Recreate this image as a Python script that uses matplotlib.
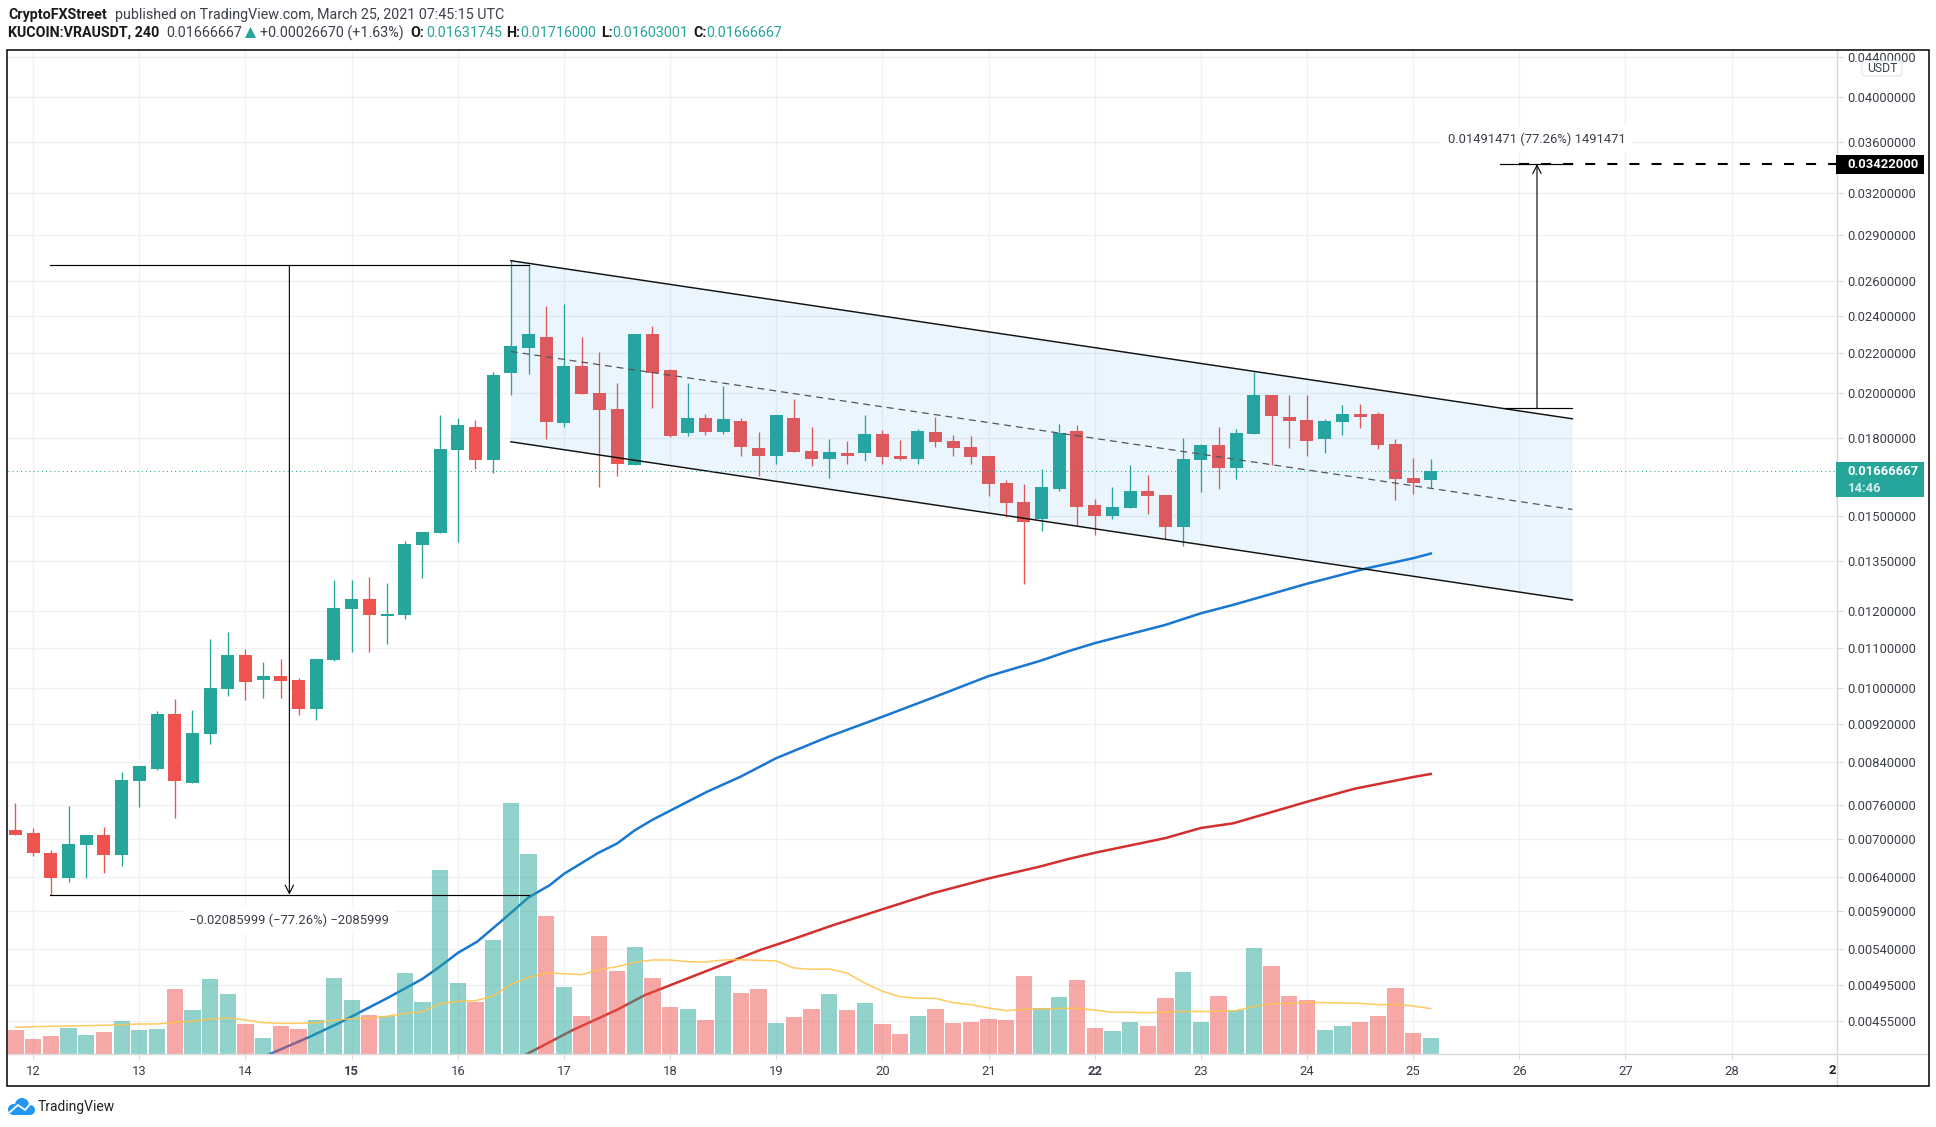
import matplotlib
matplotlib.use('Agg')
import matplotlib.pyplot as plt
import matplotlib.patches as mpatches
from matplotlib.lines import Line2D
from matplotlib.transforms import Affine2D
import numpy as np
import pandas as pd

plt.rcParams['font.family'] = ['Roboto', 'DejaVu Sans']

W, H = 1936, 1127
UP = '#26A69A'
DOWN = '#EF5350'
TEXT = '#3a3f4a'

# ==========================================
# 1. CANDLES (open, high, low, close), 4h bars
# ==========================================
ohlc = [
    (0.00715, 0.00762, 0.00708, 0.00708), (0.00711, 0.00719, 0.00673, 0.00677),
    (0.00678, 0.00683, 0.00614, 0.00638), (0.00638, 0.00758, 0.00632, 0.00692),
    (0.00691, 0.00708, 0.00638, 0.00707), (0.00707, 0.00721, 0.00647, 0.00674),
    (0.00674, 0.00821, 0.00657, 0.00805), (0.00804, 0.00833, 0.00756, 0.00833),
    (0.00827, 0.00948, 0.00824, 0.00941), (0.00941, 0.00975, 0.00737, 0.00804),
    (0.00800, 0.00950, 0.00800, 0.00900), (0.00897, 0.01123, 0.00877, 0.01000),
    (0.00998, 0.01143, 0.00983, 0.01081), (0.01081, 0.01098, 0.00973, 0.01015),
    (0.01019, 0.01065, 0.00978, 0.01029), (0.01029, 0.01071, 0.00978, 0.01017),
    (0.01019, 0.01025, 0.00939, 0.00952), (0.00952, 0.01071, 0.00927, 0.01071),
    (0.01069, 0.01290, 0.01067, 0.01209), (0.01206, 0.01290, 0.01088, 0.01234),
    (0.01234, 0.01300, 0.01088, 0.01188), (0.01186, 0.01282, 0.01110, 0.01190),
    (0.01188, 0.01415, 0.01177, 0.01405), (0.01402, 0.01444, 0.01297, 0.01444),
    (0.01441, 0.01901, 0.01441, 0.01756), (0.01753, 0.01888, 0.01412, 0.01858),
    (0.01849, 0.01880, 0.01676, 0.01711), (0.01711, 0.02103, 0.01658, 0.02090),
    (0.02098, 0.02734, 0.01993, 0.02235), (0.02224, 0.02702, 0.02094, 0.02298),
    (0.02282, 0.02455, 0.01797, 0.01870), (0.01866, 0.02466, 0.01849, 0.02133),
    (0.02133, 0.02282, 0.01996, 0.01996), (0.02001, 0.02203, 0.01606, 0.01923),
    (0.01929, 0.02050, 0.01648, 0.01695), (0.01691, 0.02298, 0.01691, 0.02298),
    (0.02298, 0.02342, 0.01932, 0.02098), (0.02113, 0.02118, 0.01805, 0.01811),
    (0.01822, 0.02050, 0.01811, 0.01888), (0.01888, 0.01906, 0.01814, 0.01826),
    (0.01826, 0.02035, 0.01818, 0.01883), (0.01875, 0.01888, 0.01728, 0.01763),
    (0.01759, 0.01826, 0.01648, 0.01728), (0.01728, 0.01901, 0.01695, 0.01901),
    (0.01888, 0.01975, 0.01743, 0.01743), (0.01747, 0.01849, 0.01687, 0.01715),
    (0.01715, 0.01797, 0.01640, 0.01743), (0.01740, 0.01788, 0.01695, 0.01728),
    (0.01740, 0.01901, 0.01708, 0.01818), (0.01818, 0.01835, 0.01695, 0.01723),
    (0.01728, 0.01793, 0.01711, 0.01715), (0.01715, 0.01841, 0.01695, 0.01832),
    (0.01826, 0.01892, 0.01763, 0.01784), (0.01788, 0.01814, 0.01728, 0.01759),
    (0.01763, 0.01811, 0.01695, 0.01723), (0.01728, 0.01728, 0.01572, 0.01618),
    (0.01621, 0.01632, 0.01496, 0.01547), (0.01551, 0.01618, 0.01277, 0.01478),
    (0.01490, 0.01674, 0.01448, 0.01604), (0.01596, 0.01861, 0.01589, 0.01822),
    (0.01832, 0.01857, 0.01465, 0.01531), (0.01538, 0.01561, 0.01434, 0.01500),
    (0.01500, 0.01604, 0.01490, 0.01531), (0.01528, 0.01691, 0.01528, 0.01592),
    (0.01592, 0.01650, 0.01507, 0.01572), (0.01575, 0.01575, 0.01421, 0.01462),
    (0.01462, 0.01801, 0.01397, 0.01715), (0.01711, 0.01775, 0.01585, 0.01771),
    (0.01771, 0.01849, 0.01596, 0.01679), (0.01679, 0.01841, 0.01636, 0.01822),
    (0.01818, 0.02103, 0.01818, 0.01993), (0.01993, 0.01993, 0.01691, 0.01897),
    (0.01892, 0.01993, 0.01759, 0.01875), (0.01879, 0.01993, 0.01728, 0.01788),
    (0.01797, 0.01883, 0.01740, 0.01875), (0.01870, 0.01946, 0.01814, 0.01906),
    (0.01906, 0.01950, 0.01845, 0.01892), (0.01906, 0.01915, 0.01754, 0.01771),
    (0.01775, 0.01797, 0.01557, 0.01636), (0.01640, 0.01720, 0.01580, 0.01621),
    (0.01631745, 0.01716, 0.01603001, 0.01666667),
]
df = pd.DataFrame(ohlc, columns=['open', 'high', 'low', 'close'])
df['up'] = df['close'] >= df['open']

# volume, relative units
df['volume'] = [
    73, 46, 55, 79, 58, 67, 100, 73, 76, 196, 133, 226, 181, 91, 49, 85, 76, 103, 229, 163,
    118, 115, 244, 157, 553, 214, 157, 343, 754, 601, 415, 202, 115, 355, 250, 322, 229, 142, 136, 103,
    235, 184, 196, 94, 112, 136, 181, 133, 154, 91, 61, 115, 136, 94, 97, 106, 103, 235, 139, 172,
    223, 79, 70, 97, 85, 169, 247, 97, 175, 133, 319, 265, 175, 163, 73, 85, 97, 115, 199, 64, 49,
]
df['vol_ma'] = [
    80, 82, 83, 84, 85, 86, 88, 90, 90, 95, 98, 105, 108, 102, 94, 92, 92, 94, 101, 106,
    107, 113, 122, 127, 151, 158, 160, 174, 209, 230, 243, 241, 238, 253, 262, 275, 282, 282, 277, 276,
    282, 283, 281, 279, 258, 254, 255, 243, 213, 188, 172, 167, 167, 154, 148, 138, 130, 134, 135, 137,
    137, 132, 125, 125, 124, 125, 128, 127, 128, 130, 143, 150, 152, 155, 154, 153, 152, 148, 149, 144, 136,
]

# moving averages, bar index and price
ma_blue = [
    (14.0, 0.004173), (16.65, 0.00438), (18.3, 0.004526), (21, 0.0048), (23, 0.005026),
    (23.9, 0.005162), (25, 0.005346), (26.1, 0.005492), (27.58, 0.00579), (29, 0.0061),
    (30.2, 0.00628), (31, 0.00645), (32.95, 0.00678), (34, 0.00693), (35, 0.00715),
    (36, 0.00733), (37, 0.00749), (39.07, 0.00783), (41, 0.00812), (43, 0.00848),
    (45.95, 0.00892), (49, 0.00935), (52.1, 0.00982), (55, 0.01029), (57.87, 0.01066),
    (59.5, 0.01091), (61, 0.01112), (65, 0.01161), (67, 0.01193), (68.83, 0.01217),
    (73, 0.01279), (76.36, 0.01326), (79, 0.01358), (80, 0.01373),
]
ma_red = [
    (28.7, 0.004183), (31.5, 0.00445), (33.9, 0.00466), (35.6, 0.004838), (42.1, 0.005384),
    (43.8, 0.005513), (46.2, 0.00571), (49, 0.00593), (51.84, 0.00616), (55, 0.00638),
    (57.87, 0.00656), (59.5, 0.00668), (61, 0.00678), (65, 0.00702), (67, 0.00719),
    (68.83, 0.00727), (73, 0.00765), (75.7, 0.00789), (79, 0.00811), (80, 0.00817),
]

price_ticks = [0.044, 0.04, 0.036, 0.032, 0.029, 0.026, 0.024, 0.022, 0.02, 0.018, 0.015,
               0.0135, 0.012, 0.011, 0.01, 0.0092, 0.0084, 0.0076, 0.007, 0.0064, 0.0059,
               0.0054, 0.00495, 0.00455]
day_ticks = list(range(1, 98, 6))
day_labels = [str(d) for d in range(12, 29)]

# ==========================================
# 2. AXES
# ==========================================
fig = plt.figure(figsize=(W / 100, H / 100), dpi=100, facecolor='white')
px = Affine2D().scale(1, -1).translate(0, H)  # pixel coords, origin top-left

ax = fig.add_axes([7.5 / W, 1 - 1054 / H, (1836.5 - 7.5) / W, (1054 - 50) / H])
ax.set_yscale('function', functions=(lambda p: np.log(np.maximum(p + 1e-4, 1e-9)),
                                     lambda v: np.exp(v) - 1e-4))
ax.set_xlim(-0.452, 102.93)
ax.set_ylim(0.0042023, 0.04468)
for s in ax.spines.values():
    s.set_visible(False)

ax_vol = ax.twinx()
ax_vol.set_ylim(0, 3012)
ax_vol.yaxis.set_visible(False)
for s in ax_vol.spines.values():
    s.set_visible(False)
ax_vol.patch.set_visible(False)

ax.yaxis.tick_right()  # twinx moves the ticks back to the left
ax.set_yticks(price_ticks)
ax.set_yticklabels(['%.8f' % t for t in price_ticks], fontsize=9.4, color=TEXT)
ax.minorticks_off()
ax.set_xticks(day_ticks)
ax.set_xticklabels(day_labels, fontsize=9.4, color=TEXT)
for lab in ax.get_xticklabels():
    if lab.get_text() in ('15', '22'):
        lab.set_fontweight('bold')
ax.tick_params(axis='y', length=4.3, width=0.7, color='#d6d6d6', pad=3.6)
ax.tick_params(axis='x', length=3.6, width=0.7, color='#d6d6d6', pad=4)
ax.grid(True, color='#f0f1f3', linewidth=1.0, zorder=0)
ax.set_axisbelow(True)

# ==========================================
# 3. PRICE SERIES
# ==========================================
bx, by = zip(*ma_blue)
ax.plot(bx, by, color='#1976D2', linewidth=1.8, zorder=2)
rx, ry = zip(*ma_red)
ax.plot(rx, ry, color='#D32F2F', linewidth=1.8, zorder=2)

colors = np.where(df['up'], UP, DOWN)
ax.vlines(df.index, df['low'], df['high'], colors=colors, linewidth=0.95, zorder=3)
body_low = df[['open', 'close']].min(axis=1)
body_high = df[['open', 'close']].max(axis=1)
ax.bar(df.index, body_high - body_low, bottom=body_low, width=0.735, color=colors,
       linewidth=0, zorder=3)

# Descending channel, drawn over the candles
chan_x = [28.0, 88.0]
ax.fill_between(chan_x, [0.02729, 0.01884], [0.01785, 0.01231], facecolor='#2196F3', alpha=0.09,
                linewidth=0, zorder=4)
ax.plot(chan_x, [0.02729, 0.01884], color='#111111', linewidth=1.05, zorder=5)
ax.plot(chan_x, [0.01785, 0.01231], color='#111111', linewidth=1.05, zorder=5)
ax.plot(chan_x, [0.02206, 0.01523], color='#555555', linewidth=0.9, linestyle=(0, (5.5, 4)), zorder=5)

# ==========================================
# 4. VOLUME (above the averages)
# ==========================================
ax_vol.bar(df.index, df['volume'], width=0.92, color=colors, alpha=0.5, linewidth=0, zorder=2)
ax_vol.plot(df.index, df['vol_ma'], color='#FFC34D', linewidth=1.1, alpha=0.9, zorder=3)

# ==========================================
# 5. MEASURE TOOLS AND PRICE LINES
# ==========================================
def price_line(xs, ys, **kw):
    ax_vol.plot(xs, ys, transform=ax.transData, scalex=False, scaley=False, zorder=6, **kw)

def arrow(x, y_from, y_to):
    ax_vol.annotate('', xy=(x, y_to), xytext=(x, y_from), xycoords=ax.transData,
                    textcoords=ax.transData, zorder=6,
                    arrowprops=dict(arrowstyle='->', color='black', lw=0.8, shrinkA=0, shrinkB=0,
                                    mutation_scale=15))

price_line([1.95, 29.0], [0.0270, 0.0270], color='black', linewidth=0.85)
price_line([1.95, 29.0], [0.00614, 0.00614], color='black', linewidth=0.85)
arrow(15.48, 0.0270, 0.00614)
ax_vol.text(15.48, 0.00578, '\u22120.02085999 (\u221277.26%) \u22122085999', transform=ax.transData,
            ha='center', va='center', fontsize=9.4, color=TEXT, zorder=7,
            bbox=dict(facecolor='white', edgecolor='none', pad=5))

price_line([83.9, 88.0], [0.03422, 0.03422], color='black', linewidth=0.85)
price_line([84.2, 88.0], [0.0193053, 0.0193053], color='black', linewidth=0.85)
arrow(86.0, 0.0193053, 0.03422)
ax_vol.text(86.0, 0.03626, '0.01491471 (77.26%) 1491471', transform=ax.transData,
            ha='center', va='center', fontsize=9.4, color=TEXT, zorder=7,
            bbox=dict(facecolor='white', edgecolor='none', pad=5))

price_line([84.98, 102.93], [0.03422, 0.03422], color='black', linewidth=1.5,
           linestyle=(0, (4.8, 5.8)))
price_line([-0.452, 102.93], [0.01666667, 0.01666667], color=UP, linewidth=0.75,
           linestyle=(0, (1, 3)))

# ==========================================
# 6. FRAME, PRICE TAGS, HEADER, LOGO
# ==========================================
def px_text(x, y, s, **kw):
    kw.setdefault('fontsize', 10.3)
    kw.setdefault('color', TEXT)
    kw.setdefault('va', 'center')
    kw.setdefault('zorder', 12)
    fig.text(x / W, 1 - y / H, s, **kw)

def px_rect(x0, y0, x1, y1, **kw):
    kw.setdefault('zorder', 10)
    fig.add_artist(mpatches.Rectangle((x0, y0), x1 - x0, y1 - y0, transform=px, **kw))

def px_line(xs, ys, **kw):
    fig.add_artist(Line2D(xs, ys, transform=px, **kw))

px_line([1836.5, 1836.5], [50, 1086], color='#d6d6d6', linewidth=1.0, zorder=8)
px_line([7, 1929], [1054, 1054], color='#d9d9d9', linewidth=1.0, zorder=8)
px_rect(7, 49.5, 1928.5, 1085.5, facecolor='none', edgecolor='black', linewidth=1.1, zorder=9)

# last price tags
px_rect(1836, 155, 1924, 174, facecolor='black', edgecolor='none')
px_text(1847, 164.5, '0.03422000', color='white', fontweight='bold', fontsize=9.4)
px_rect(1836, 462, 1924, 497, facecolor=UP, edgecolor='none')
px_text(1847, 471.5, '0.01666667', color='white', fontweight='bold', fontsize=9.4)
px_text(1848, 488, '14:46', color='#d5f0ed', fontweight='bold', fontsize=9.4)

# currency button
fig.add_artist(mpatches.FancyBboxPatch((1862, 61), 40, 15, boxstyle='round,pad=0,rounding_size=3',
                                       transform=px, facecolor='white', edgecolor='#e0e3eb',
                                       linewidth=0.8, zorder=10))
px_text(1882, 68.5, 'USDT', ha='center', fontsize=8.8)

px_text(1836, 1070, '2', ha='right', fontweight='bold', color='#222222', fontsize=9.4)

px_text(8, 15, 'CryptoFXStreet', fontweight='bold', color='#1a1a1a')
px_text(115, 15, 'published on TradingView.com, March 25, 2021 07:45:15 UTC')
px_text(8, 33, 'KUCOIN:VRAUSDT, 240', fontweight='bold', color='#1a1a1a')
px_text(166, 33, '0.01666667')
fig.add_artist(mpatches.Polygon([(245, 38), (250.5, 27), (256, 38)], closed=True, transform=px,
                                facecolor=UP, edgecolor='none', zorder=10))
px_text(260, 33, '+0.00026670 (+1.63%)')
for x_lab, lab, x_val, val in [(410.5, 'O:', 426, '0.01631745'), (506, 'H:', 520.5, '0.01716000'),
                               (601.5, 'L:', 612, '0.01603001'), (693, 'C:', 706, '0.01666667')]:
    px_text(x_lab, 33, lab, fontweight='bold', color='#1a1a1a')
    px_text(x_val, 33, val, color=UP)

# TradingView logo
for cx, cy, r in [(13.5, 1109.5, 5.5), (22, 1105, 7), (30, 1110, 5)]:
    fig.add_artist(mpatches.Circle((cx, cy), r, transform=px, facecolor='#2196F3', edgecolor='none', zorder=10))
px_rect(13, 1108, 30, 1115, facecolor='#2196F3', edgecolor='none')
px_line([10, 18, 25, 31], [1112, 1105, 1110, 1103], color='white', linewidth=1.3, zorder=11)
px_text(37.5, 1107, 'TradingView', fontsize=10, color='#222222')

fig.savefig('out.png', dpi=100)
plt.close(fig)
